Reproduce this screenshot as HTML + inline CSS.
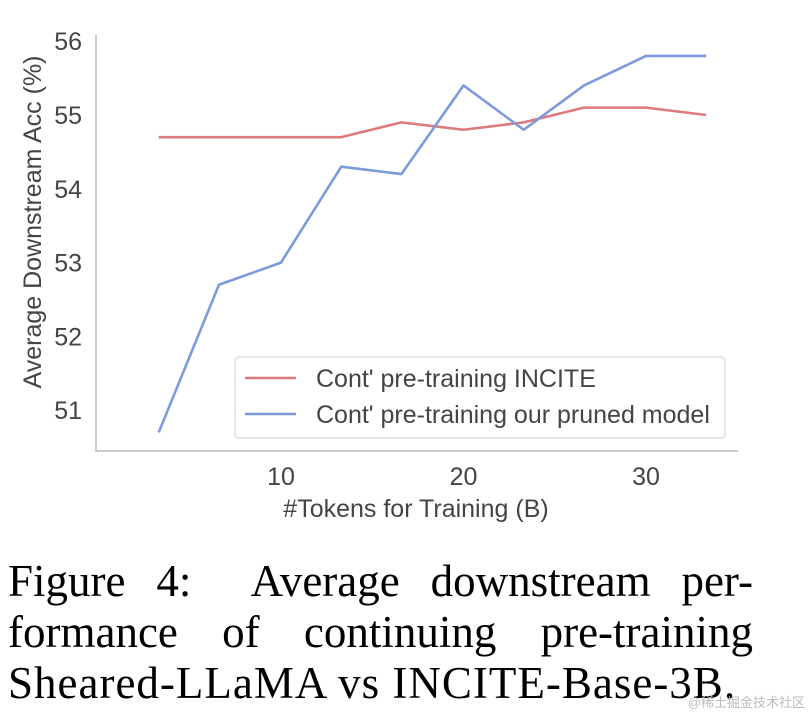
<!DOCTYPE html>
<html><head><meta charset="utf-8"><style>
body{margin:0;background:#fff;width:811px;height:718px;overflow:hidden}
svg text{font-family:"Liberation Sans",sans-serif}
.cap{position:absolute;left:8px;top:556px;width:745px;font-family:"Liberation Serif",serif;font-size:45px;line-height:51px;color:#000}
.cap span{display:block;text-align:justify;text-align-last:justify;white-space:nowrap}
.cap span.last{text-align-last:left;letter-spacing:1px}
</style></head><body>
<svg id="chart" width="811" height="560" style="position:absolute;left:0;top:0">
<g id="g"></g>
</svg>
<div class="cap"><span style="white-space:normal">Figure 4:&nbsp; Average downstream per-</span><span style="white-space:normal">formance of continuing pre-training</span><span class="last">Sheared-LLaMA vs INCITE-Base-3B.</span></div>
<div style="position:absolute;right:6px;top:692px;font-family:'Liberation Sans','Noto Sans CJK SC',sans-serif;font-size:13px;color:#bbb">@稀土掘金技术社区</div>
<script>
const tokens=[3.3,6.6,10,13.3,16.6,20,23.3,26.6,30,33.3];
const incite=[54.7,54.7,54.7,54.7,54.9,54.8,54.9,55.1,55.1,55.0];
const pruned=[50.7,52.7,53.0,54.3,54.2,55.4,54.8,55.4,55.8,55.8];
const yTicks=[51,52,53,54,55,56];
const xTicks=[10,20,30];
const NS="http://www.w3.org/2000/svg";
const g=document.getElementById('g');
const X=v=>281+(v-10)*18.25;
const Y=v=>115-(v-55)*73.8;
function mk(t,a,p){const e=document.createElementNS(NS,t);for(const k in a)e.setAttribute(k,a[k]);(p||g).appendChild(e);return e;}
let ax=mk('path',{d:'M96 35 V451 H738',fill:'none',stroke:'#ccc','stroke-width':2});


yTicks.forEach(v=>{const t=mk('text',{x:82,y:Y(v)+9,'text-anchor':'end','font-size':25,fill:'#444'});t.textContent=v;

});
xTicks.forEach(v=>{const t=mk('text',{x:X(v),y:485,'text-anchor':'middle','font-size':25,fill:'#444'});t.textContent=v;

});
let yl=mk('text',{x:0,y:0,transform:'translate(41,222) rotate(-90)','text-anchor':'middle','font-size':25,fill:'#444'});yl.textContent='Average Downstream Acc (%)';


let xl=mk('text',{x:416,y:517,'text-anchor':'middle','font-size':25,fill:'#444'});xl.textContent='#Tokens for Training (B)';


function line(arr,col,name){const l=mk('polyline',{points:arr.map((v,i)=>X(tokens[i])+','+Y(v)).join(' '),fill:'none',stroke:col,'stroke-width':2.6,'stroke-linejoin':'round'});

}
line(incite,'#dd7a7c','series-incite');
line(pruned,'#7b9bdc','series-pruned');
const lg=mk('g',{});


mk('rect',{x:235,y:357,width:490,height:81,rx:4,fill:'#fff','fill-opacity':0.85,stroke:'#ddd','stroke-width':1.5},lg);
mk('line',{x1:245,y1:378,x2:296,y2:378,stroke:'#dd7a7c','stroke-width':2.6},lg);
mk('line',{x1:245,y1:414,x2:296,y2:414,stroke:'#7b9bdc','stroke-width':2.6},lg);
let t1=mk('text',{x:316,y:387,'font-size':25,fill:'#444'},lg);t1.textContent="Cont' pre-training INCITE";


let t2=mk('text',{x:316,y:423,'font-size':25,fill:'#444'},lg);t2.textContent="Cont' pre-training our pruned model";


</script>
</body></html>
